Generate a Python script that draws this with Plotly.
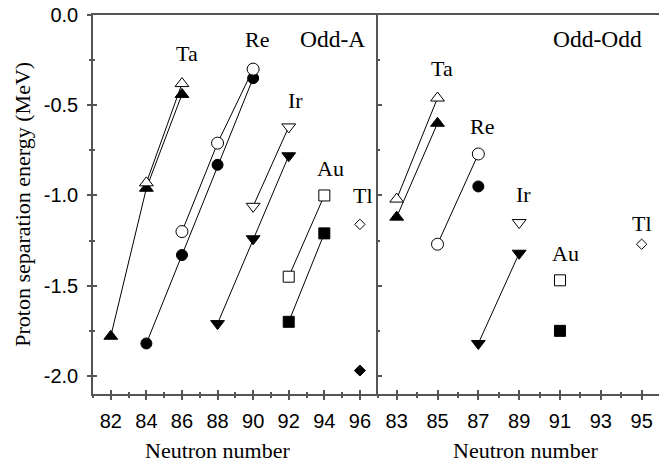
import plotly.graph_objects as go

# ---------------- data ----------------
# Odd-A panel (left)
ta_a_open_n = [84, 86];          ta_a_open_e = [-0.93, -0.38]
ta_a_fill_n = [82, 84, 86];      ta_a_fill_e = [-1.78, -0.96, -0.44]
re_a_open_n = [86, 88, 90];      re_a_open_e = [-1.20, -0.71, -0.30]
re_a_fill_n = [84, 86, 88, 90];  re_a_fill_e = [-1.82, -1.33, -0.83, -0.35]
ir_a_open_n = [90, 92];          ir_a_open_e = [-1.06, -0.62]
ir_a_fill_n = [88, 90, 92];      ir_a_fill_e = [-1.71, -1.24, -0.78]
au_a_open_n = [92, 94];          au_a_open_e = [-1.45, -1.00]
au_a_fill_n = [92, 94];          au_a_fill_e = [-1.70, -1.21]
tl_a_open_n = [96];              tl_a_open_e = [-1.16]
tl_a_fill_n = [96];              tl_a_fill_e = [-1.97]

# Odd-Odd panel (right)
ta_o_open_n = [83, 85];          ta_o_open_e = [-1.02, -0.46]
ta_o_fill_n = [83, 85];          ta_o_fill_e = [-1.12, -0.60]
re_o_open_n = [85, 87];          re_o_open_e = [-1.27, -0.77]
re_o_fill_n = [87];              re_o_fill_e = [-0.95]
ir_o_open_n = [89];              ir_o_open_e = [-1.15]
ir_o_fill_n = [87, 89];          ir_o_fill_e = [-1.82, -1.32]
au_o_open_n = [91];              au_o_open_e = [-1.47]
au_o_fill_n = [91];              au_o_fill_e = [-1.75]
tl_o_open_n = [95];              tl_o_open_e = [-1.27]

y_tick_vals = [0.0, -0.5, -1.0, -1.5, -2.0]
y_tick_text = ["0.0", "-0.5", "-1.0", "-1.5", "-2.0"]

# element labels: (text, N, energy, font size)
labels_a = [("Ta", 86.3, -0.215, 22), ("Re", 90.2, -0.135, 22), ("Odd-A", 94.45, -0.135, 23.5),
            ("Ir", 92.4, -0.475, 22), ("Au", 94.37, -0.85, 22), ("Tl", 96.17, -1.0, 22)]
labels_o = [("Ta", 85.24, -0.298, 22), ("Re", 87.19, -0.616, 22), ("Ir", 89.2, -0.992, 22),
            ("Au", 91.25, -1.32, 22), ("Tl", 95.04, -1.158, 22), ("Odd-Odd", 92.85, -0.135, 23.5)]

# ---------------- figure ----------------
fig = go.Figure()
AX = "#555555"
SERIF = "Liberation Serif"
SANS = "Liberation Sans"


def add(n, e, symbol, filled, size, xa, ya, lines=True):
    fig.add_trace(go.Scatter(
        x=n, y=e, xaxis=xa, yaxis=ya,
        mode="lines+markers" if (lines and len(n) > 1) else "markers",
        line=dict(color="black", width=1),
        marker=dict(symbol=symbol, size=size,
                    color="black" if filled else "white",
                    line=dict(color="black", width=1)),
        showlegend=False, hoverinfo="skip", cliponaxis=False))


TRI = 12
# left
add(ta_a_fill_n, ta_a_fill_e, "triangle-up", True, TRI, "x", "y")
add(ta_a_open_n, ta_a_open_e, "triangle-up", False, TRI, "x", "y")
add(re_a_fill_n, re_a_fill_e, "circle", True, 11, "x", "y")
add(re_a_open_n, re_a_open_e, "circle", False, 12, "x", "y")
add(ir_a_fill_n, ir_a_fill_e, "triangle-down", True, TRI, "x", "y")
add(ir_a_open_n, ir_a_open_e, "triangle-down", False, TRI, "x", "y")
add(au_a_fill_n, au_a_fill_e, "square", True, 11, "x", "y")
add(au_a_open_n, au_a_open_e, "square", False, 11, "x", "y")
add(tl_a_open_n, tl_a_open_e, "diamond", False, 8, "x", "y")
add(tl_a_fill_n, tl_a_fill_e, "diamond", True, 8.5, "x", "y")
# right
add(ta_o_fill_n, ta_o_fill_e, "triangle-up", True, TRI, "x2", "y2")
add(ta_o_open_n, ta_o_open_e, "triangle-up", False, TRI, "x2", "y2")
add(re_o_open_n, re_o_open_e, "circle", False, 12, "x2", "y2")
add(re_o_fill_n, re_o_fill_e, "circle", True, 11, "x2", "y2")
add(ir_o_fill_n, ir_o_fill_e, "triangle-down", True, TRI, "x2", "y2")
add(ir_o_open_n, ir_o_open_e, "triangle-down", False, TRI, "x2", "y2")
add(au_o_open_n, au_o_open_e, "square", False, 11, "x2", "y2")
add(au_o_fill_n, au_o_fill_e, "square", True, 11, "x2", "y2")
add(tl_o_open_n, tl_o_open_e, "diamond", False, 8, "x2", "y2")

# dummy traces for overlay (inside-tick) axes
for xa, ya in [("x3", "y"), ("x4", "y2"), ("x", "y3")]:
    fig.add_trace(go.Scatter(x=[None], y=[None], xaxis=xa, yaxis=ya,
                             showlegend=False, hoverinfo="skip"))

for txt, n, e, fs in labels_a:
    fig.add_annotation(x=n, y=e, xref="x", yref="y", text=txt, showarrow=False,
                       xanchor="center", yanchor="middle",
                       font=dict(family=SERIF, size=fs, color="black"))
for txt, n, e, fs in labels_o:
    fig.add_annotation(x=n, y=e, xref="x2", yref="y2", text=txt, showarrow=False,
                       xanchor="center", yanchor="middle",
                       font=dict(family=SERIF, size=fs, color="black"))

# axis titles
title_font = dict(family=SERIF, size=22, color="black")
fig.add_annotation(x=0.22, y=-0.148, xref="paper", yref="paper", text="Neutron number",
                   showarrow=False, xanchor="center", yanchor="middle", font=title_font)
fig.add_annotation(x=0.765, y=-0.148, xref="paper", yref="paper", text="Neutron number",
                   showarrow=False, xanchor="center", yanchor="middle", font=title_font)
fig.add_annotation(x=-0.125, y=0.5, xref="paper", yref="paper",
                   text="Proton separation energy (MeV)", textangle=-90,
                   showarrow=False, xanchor="center", yanchor="middle", font=title_font)

XL = [81, 97]
XR = [82.07, 95.85]
YR = [-2.1, 0]
DIV = 0.503
tickfont = dict(family=SANS, size=20, color="black")

common_line = dict(showgrid=False, zeroline=False, linecolor=AX, linewidth=1.5,
                   tickcolor=AX, tickwidth=1.5)

fig.update_layout(
    width=659, height=464,
    margin=dict(l=93, r=0, t=15, b=70),
    paper_bgcolor="white", plot_bgcolor="white",
    xaxis=dict(domain=[0, DIV], range=XL, anchor="y", showline=True, mirror=True,
               ticks="outside", ticklen=4, tick0=82, dtick=2, tickfont=tickfont,
               ticklabelstandoff=4,
               minor=dict(ticks="outside", ticklen=2, dtick=1, tick0=81,
                          tickcolor=AX, tickwidth=1.5),
               **common_line),
    xaxis2=dict(domain=[DIV, 1], range=XR, anchor="y2", showline=True, mirror=True,
                ticks="outside", ticklen=4, tick0=83, dtick=2, tickfont=tickfont,
                ticklabelstandoff=4,
                minor=dict(ticks="outside", ticklen=2, dtick=1, tick0=82,
                           tickcolor=AX, tickwidth=1.5),
                **common_line),
    xaxis3=dict(overlaying="x", range=XL, anchor="y", showline=False,
                ticks="inside", ticklen=4, tick0=82, dtick=2, showticklabels=False,
                minor=dict(ticks="inside", ticklen=2, dtick=1, tick0=81,
                           tickcolor=AX, tickwidth=1.5),
                showgrid=False, zeroline=False, tickcolor=AX, tickwidth=1.5),
    xaxis4=dict(overlaying="x2", range=XR, anchor="y2", showline=False,
                ticks="inside", ticklen=4, tick0=83, dtick=2, showticklabels=False,
                minor=dict(ticks="inside", ticklen=2, dtick=1, tick0=82,
                           tickcolor=AX, tickwidth=1.5),
                showgrid=False, zeroline=False, tickcolor=AX, tickwidth=1.5),
    yaxis=dict(domain=[0, 1], range=YR, anchor="x", showline=True,
               ticks="outside", ticklen=4, tickmode="array",
               tickvals=y_tick_vals, ticktext=y_tick_text, tickfont=tickfont,
               ticklabelstandoff=5,
               minor=dict(ticks="outside", ticklen=2, dtick=0.25, tick0=0,
                          tickcolor=AX, tickwidth=1.5),
               **common_line),
    yaxis2=dict(domain=[0, 1], range=YR, anchor="x2", showline=True,
                ticks="inside", ticklen=5, tickmode="array",
                tickvals=y_tick_vals, showticklabels=False,
                minor=dict(ticks="inside", ticklen=3, dtick=0.25, tick0=0,
                           tickcolor=AX, tickwidth=1.5),
                **common_line),
    yaxis3=dict(overlaying="y", range=YR, anchor="x", showline=False,
                ticks="inside", ticklen=4, tickmode="array",
                tickvals=y_tick_vals, showticklabels=False,
                minor=dict(ticks="inside", ticklen=2, dtick=0.25, tick0=0,
                           tickcolor=AX, tickwidth=1.5),
                showgrid=False, zeroline=False, tickcolor=AX, tickwidth=1.5),
)

fig.write_html("out.html", config={"displayModeBar": False},
               post_script="document.body.style.margin='0px';")
